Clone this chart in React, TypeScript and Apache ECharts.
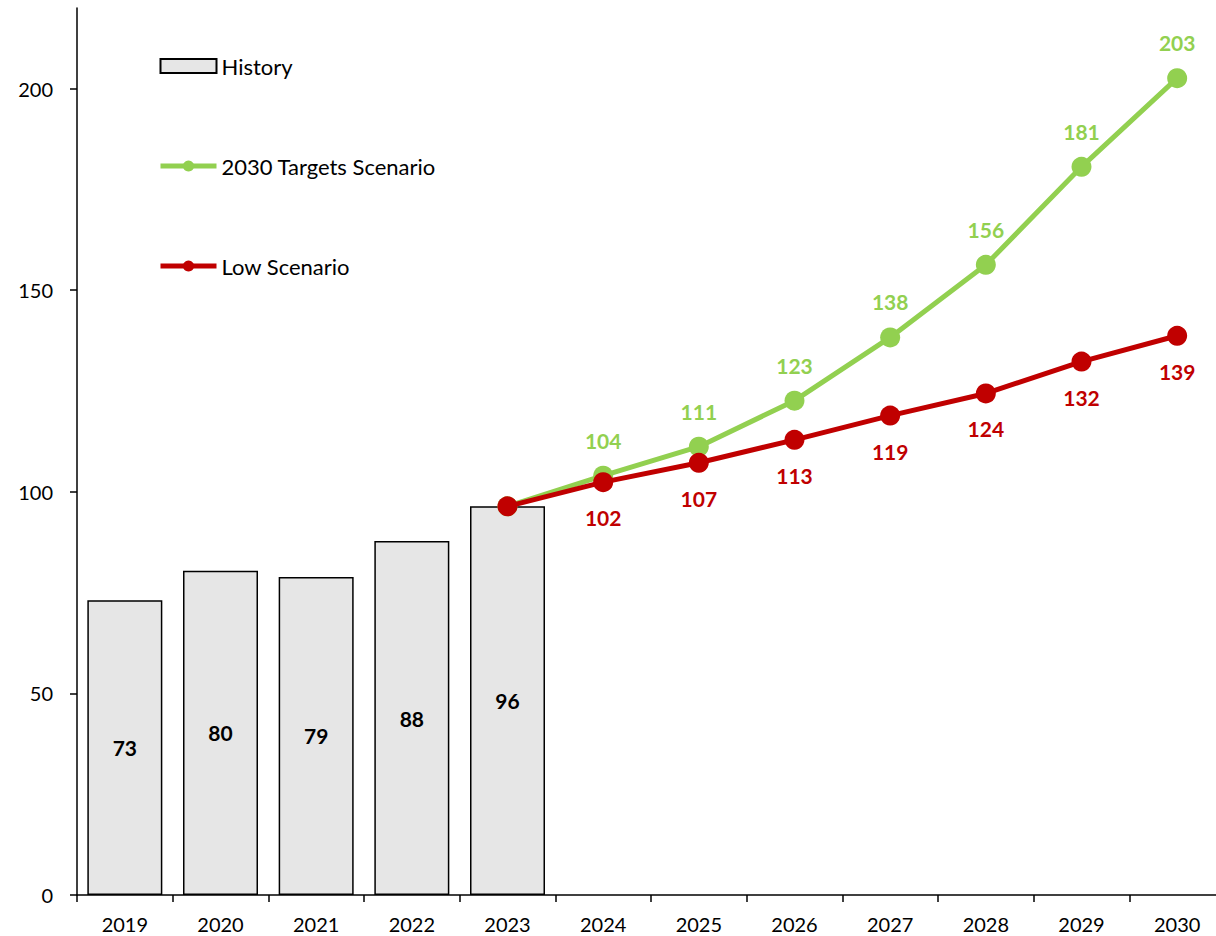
import React, { useEffect, useRef } from "react";
import * as echarts from "echarts";

const categories = ["2019", "2020", "2021", "2022", "2023", "2024", "2025", "2026", "2027", "2028", "2029", "2030"];
const history = [73.1, 80.4, 78.9, 87.8, 96.4, null, null, null, null, null, null, null];
const targets = [null, null, null, null, 96.4, 104.0, 111.2, 122.6, 138.3, 156.3, 180.6, 202.6];
const low = [null, null, null, null, 96.4, 102.4, 107.2, 112.9, 118.9, 124.4, 132.3, 138.7];
const yTickValues = [0, 50, 100, 150, 200];
const yMax = 220;

const GREEN = "#92d050";
const RED = "#c00000";
const FONT = "Lato, 'Open Sans', sans-serif";

export default function App() {
  const ref = useRef<HTMLDivElement>(null);
  useEffect(() => {
    if (!ref.current) return;
    const chart = echarts.init(ref.current, null, { renderer: "svg" });
    const lineLabel = (color: string, pos: "top" | "bottom") => ({
      show: true,
      position: pos,
      distance: 15,
      color,
      fontSize: 21,
      fontWeight: "bold" as const,
      fontFamily: FONT,
      formatter: (p: any) => (p.dataIndex <= 4 ? "" : String(Math.round(p.value))),
    });
    chart.setOption({
      animation: false,
      textStyle: { fontFamily: FONT },
      grid: { left: 77, top: 8, width: 1148, bottom: 41, containLabel: false, outerBoundsMode: "none" },
      legend: {
        orient: "vertical",
        left: 153,
        top: 50,
        itemWidth: 56,
        itemHeight: 14,
        itemGap: 78,
        textStyle: { fontSize: 22, lineHeight: 22, color: "#000", fontFamily: FONT },
        data: [
          { name: "History", icon: "rect" },
          { name: "2030 Targets Scenario", lineStyle: { width: 5 } },
          { name: "Low Scenario", lineStyle: { width: 5 } },
        ],
      },
      xAxis: {
        type: "category",
        data: categories,
        axisLine: { lineStyle: { color: "#000", width: 1.5 } },
        axisTick: { show: true, length: 7, lineStyle: { color: "#000", width: 1.5 } },
        axisLabel: { color: "#000", fontSize: 20, margin: 19, fontFamily: FONT },
      },
      yAxis: {
        type: "value",
        min: 0,
        max: yMax,
        splitLine: { show: false },
        axisLine: { show: true, lineStyle: { color: "#000", width: 1.5 } },
        axisTick: { show: true, length: 7, customValues: yTickValues, lineStyle: { color: "#000", width: 1.5 } },
        axisLabel: { color: "#000", fontSize: 20, margin: 24, customValues: yTickValues, fontFamily: FONT },
      },
      series: [
        {
          name: "History",
          type: "bar",
          data: history,
          barWidth: 75,
          itemStyle: { color: "#e6e6e6", borderColor: "#000", borderWidth: 1.5 },
          label: {
            show: true,
            position: "inside",
            color: "#000",
            fontSize: 21,
            fontWeight: "bold",
            fontFamily: FONT,
            formatter: (p: any) => String(Math.round(p.value)),
          },
        },
        {
          name: "2030 Targets Scenario",
          type: "line",
          data: targets,
          symbol: "circle",
          symbolSize: 20,
          lineStyle: { color: GREEN, width: 5 },
          itemStyle: { color: GREEN },
          label: lineLabel(GREEN, "top"),
          z: 3,
        },
        {
          name: "Low Scenario",
          type: "line",
          data: low,
          symbol: "circle",
          symbolSize: 20,
          lineStyle: { color: RED, width: 5 },
          itemStyle: { color: RED },
          label: lineLabel(RED, "bottom"),
          z: 4,
        },
      ],
    });
    return () => chart.dispose();
  }, []);
  return <div ref={ref} style={{ position: "absolute", left: 0, top: 0, width: 1216, height: 936 }} />;
}
